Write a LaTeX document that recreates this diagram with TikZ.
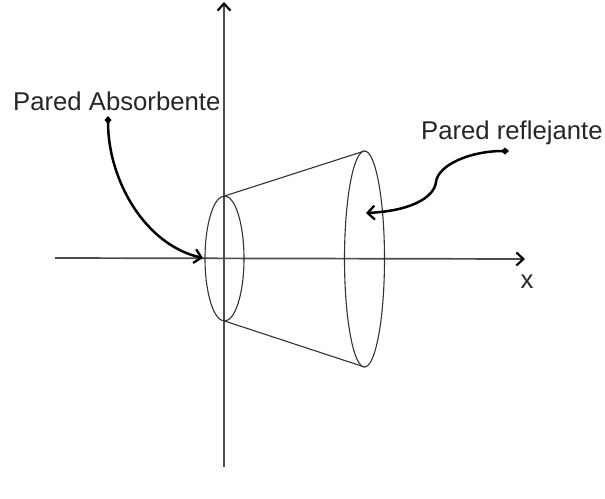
\documentclass[tikz,border=0pt]{standalone}
\usepackage{fontspec}
\setmainfont{Liberation Sans}
\usetikzlibrary{arrows.meta}
\tikzset{
  axis/.style={line width=1.7pt,draw=black!70,-{Straight Barb[length=7pt,width=13pt,line width=2.2pt,black]}},
  pointer/.style={line width=2.5pt,draw=black,{Diamond[length=8pt,width=7pt]}-{Straight Barb[length=7pt,width=14pt,line width=2.3pt]}},
  thinline/.style={line width=1.1pt,draw=black!80},
  lbl/.style={inner sep=0pt,text=black!85,font=\fontsize{25.7}{30}\selectfont}
}
\begin{document}
\begin{tikzpicture}[x=1pt,y=-1pt]
\useasboundingbox (0,0) rectangle (605,498);
\fill[white] (0,0) rectangle (605,498);
\coordinate (ybot) at (224,467);
\coordinate (ytop) at (224,2);
\coordinate (xl) at (55,258);
\coordinate (xr) at (525,259);
\draw[axis] (ybot) -- (ytop);
\draw[axis] (xl) -- (xr);
\coordinate (s1) at (224.5,196);
\coordinate (s2) at (224.5,321);
\coordinate (b1) at (364.5,151);
\coordinate (b2) at (364.5,367);
\draw[thinline] (224.5,258.5) ellipse [x radius=19.5,y radius=62.5];
\draw[thinline] (364.5,259) ellipse [x radius=20,y radius=108];
\draw[thinline] (s1) -- (b1);
\draw[thinline] (s2) -- (b2);
\node[lbl,anchor=west] (absorb) at (13,101) {Pared Absorbente};
\node[lbl,anchor=west] (refl) at (421,133) {Pared reflejante};
\node[lbl,anchor=center] (xlab) at (527,282) {x};
\coordinate (a1) at (108,116);
\coordinate (a2) at (203,258);
\coordinate (c1) at (509,151);
\coordinate (c2) at (366,213);
\draw[pointer] (a1) .. controls (108,180) and (145,245) .. (a2);
\draw[pointer] (c1) .. controls (470,151) and (438,165) .. (436,182) .. controls (434,198) and (410,211) .. (c2);
\end{tikzpicture}
\end{document}
